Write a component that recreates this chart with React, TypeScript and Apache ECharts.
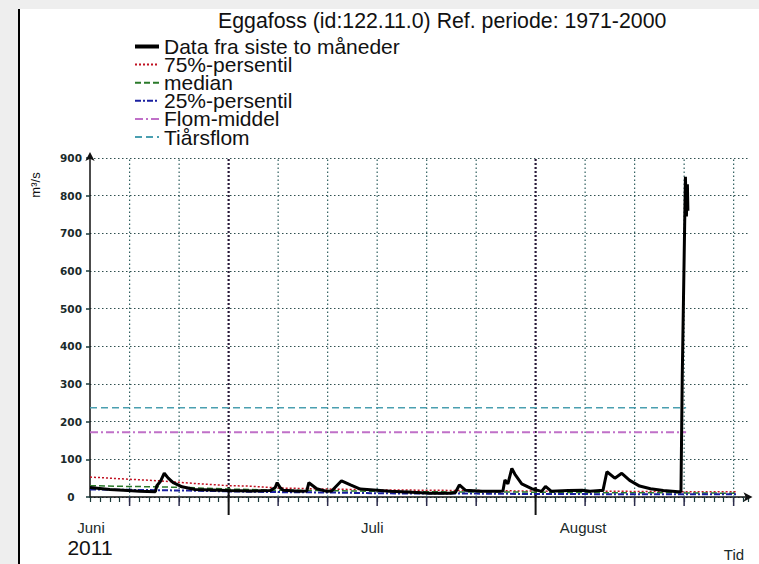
import { useEffect, useRef } from 'react';
import * as echarts from 'echarts';

const TITLE = 'Eggafoss (id:122.11.0) Ref. periode: 1971-2000';

// x values: days counted from 1 June 2011 00:00 (0 = 1 June, 30 = 1 July, 61 = 1 August)
const dataDays = [
  16.0, 18.0, 19.8, 21.0, 22.6, 22.75, 23.1, 23.5, 23.9, 24.4, 25.3, 26.6, 29.9, 32.3,
  34.2, 34.7, 34.9, 35.2, 35.5, 37.2, 37.9, 38.1, 38.9, 39.9, 40.4, 41.4, 42.3, 43.3,
  45.0, 46.3, 49.0, 50.3, 52.4, 52.9, 53.3, 53.9, 55.6, 57.2, 57.7, 57.9, 58.2, 58.6,
  58.9, 59.6, 60.6, 61.6, 62.0, 62.6, 64.3, 65.7, 66.5, 67.5, 67.8, 68.2, 69.0, 69.7,
  70.5, 71.5, 72.6, 73.9, 75.4, 75.68, 75.81, 76.13, 76.23, 76.33, 76.38,
];
const dataValues = [
  25, 20, 17, 15, 14, 30, 41, 63, 50, 38, 27, 20, 17, 16,
  17, 25, 38, 25, 18, 15, 16, 38, 22, 15, 16, 43, 32, 21,
  18, 15, 12, 10, 10, 12, 32, 18, 15, 15, 16, 45, 35, 76,
  61, 35, 22, 15, 28, 15, 17, 18, 15, 17, 17, 67, 50, 63,
  44, 29, 22, 17, 14, 14, 320, 850, 745, 830, 760,
];

const refDays = [16, 20, 23, 26, 30, 32, 35, 40, 45, 50, 55, 60, 65, 70, 75, 81.3];
const p75 = [53, 47, 43, 37, 30, 29, 24, 21, 19, 18, 17, 16, 15, 15, 14, 14];
const median = [30, 28, 27, 25, 21, 20, 18, 17, 15, 14, 13, 13, 12, 11, 11, 10];
const p25 = [20, 19, 18, 17, 15, 14, 13, 12, 10, 9, 9, 8, 8, 7, 7, 7];

const floodDays = [16, 76.2];
const flomMiddel = [172, 172];
const tiarsflom = [237, 237];

const gridDays = [20, 25, 35, 40, 45, 50, 55, 66, 71, 76, 81];
const monthStartDays = [30, 61];
const monthLabels = ['Juni', 'Juli', 'August'];
const monthLabelDays = [16.1, 44.5, 65.8];

const legendNames = [
  'Data fra siste to måneder',
  '75%-persentil',
  'median',
  '25%-persentil',
  'Flom-middel',
  'Tiårsflom',
];

const FONT = 'Liberation Sans, Arial, sans-serif';

const zip = (xs: number[], ys: number[]) => xs.map((x, i) => [x, ys[i]]);

export default function App() {
  const ref = useRef<HTMLDivElement>(null);
  useEffect(() => {
    if (!ref.current) return;
    const chart = echarts.init(ref.current, undefined, { renderer: 'svg' });
    const option: any = {
      animation: false,
      backgroundColor: '#ffffff',
      title: {
        text: TITLE,
        left: 218,
        top: 10,
        padding: 0,
        textStyle: { fontFamily: FONT, fontSize: 21.3, fontWeight: 'normal', color: '#111' },
      },
      legend: {
        data: legendNames.map((n, i) => (i === 0 ? { name: n, lineStyle: { width: 4 } } : { name: n })),
        orient: 'vertical',
        left: 133,
        top: 36,
        padding: 0,
        itemWidth: 24,
        itemHeight: 10,
        itemGap: -2.9,
        itemStyle: { opacity: 0 },
        textStyle: { fontFamily: FONT, fontSize: 21, lineHeight: 18.2, color: '#111' },
      },
      grid: { left: 90, right: 10.5, top: 158, bottom: 67 },
      xAxis: {
        type: 'value',
        min: 16,
        max: 82.5,
        interval: 1,
        axisLine: {
          show: true,
          lineStyle: { color: '#111', width: 1.5 },
          symbol: ['none', 'arrow'],
          symbolSize: [7, 9],
          symbolOffset: [0, 4],
        },
        axisTick: { show: true, length: 5, lineStyle: { color: '#1a3a3a', width: 1.2 } },
        axisLabel: { show: false },
        splitLine: { show: false },
      },
      yAxis: {
        type: 'value',
        min: 0,
        max: 900,
        interval: 100,
        axisLine: {
          show: true,
          lineStyle: { color: '#111', width: 1.5 },
          symbol: ['none', 'arrow'],
          symbolSize: [7, 9],
          symbolOffset: [0, 6],
        },
        axisTick: { show: true, length: 4, lineStyle: { color: '#1a3a3a', width: 1.5 } },
        axisLabel: {
          align: 'center',
          margin: 19,
          fontFamily: 'DejaVu Sans, sans-serif',
          fontSize: 10.5,
          fontWeight: 'bold',
          color: '#1a2a2a',
        },
        splitLine: { show: true, lineStyle: { color: '#2f4f4f', width: 1, type: [1.5, 2.5] } },
      },
      graphic: [
        { type: 'rect', shape: { x: 0, y: 0, width: 18, height: 564 }, style: { fill: '#eeeeee' }, silent: true },
        { type: 'rect', shape: { x: 0, y: 0, width: 759, height: 9 }, style: { fill: '#eeeeee' }, silent: true },
        { type: 'line', shape: { x1: 19, y1: 9, x2: 19, y2: 564 }, style: { stroke: '#000', lineWidth: 2 }, silent: true },
        {
          type: 'text', x: 90, y: 547,
          style: { text: '2011', font: `21px ${FONT}`, fill: '#111', align: 'center', verticalAlign: 'middle' },
        },
        {
          type: 'text', x: 734, y: 554,
          style: { text: 'Tid', font: `15px ${FONT}`, fill: '#1a2a2a', align: 'center', verticalAlign: 'middle' },
        },
        {
          type: 'text', x: 35, y: 185, rotation: Math.PI / 2,
          style: { text: 'm³/s', font: `13px ${FONT}`, fill: '#111', align: 'center', verticalAlign: 'middle' },
        },
      ],
      series: [
        {
          name: 'vgrid',
          type: 'custom',
          silent: true,
          z: 1,
          data: gridDays.map((d) => [d, 0]),
          renderItem: (_p: any, api: any) => {
            const a = api.coord([api.value(0), 0]);
            const b = api.coord([api.value(0), 900]);
            return {
              type: 'line',
              shape: { x1: a[0], y1: a[1], x2: b[0], y2: b[1] },
              style: { stroke: '#2f5f5f', lineWidth: 1.2, lineDash: [1.5, 2.5] },
            };
          },
        },
        {
          name: 'mgrid',
          type: 'custom',
          silent: true,
          z: 1,
          data: monthStartDays.map((d) => [d, 0]),
          renderItem: (_p: any, api: any) => {
            const a = api.coord([api.value(0), 0]);
            const b = api.coord([api.value(0), 900]);
            return {
              type: 'group',
              children: [
                {
                  type: 'line',
                  shape: { x1: a[0], y1: a[1], x2: b[0], y2: b[1] },
                  style: { stroke: '#2a1a3a', lineWidth: 2.2, lineDash: [2, 2] },
                },
                {
                  type: 'line',
                  shape: { x1: a[0], y1: a[1] - 10, x2: a[0], y2: a[1] + 18 },
                  style: { stroke: '#111', lineWidth: 2 },
                },
              ],
            };
          },
        },
        {
          name: 'majorTicks',
          type: 'custom',
          silent: true,
          z: 6,
          data: gridDays.map((d) => [d, 0]),
          renderItem: (_p: any, api: any) => {
            const a = api.coord([api.value(0), 0]);
            return {
              type: 'line',
              shape: { x1: a[0], y1: a[1], x2: a[0], y2: a[1] + 9 },
              style: { stroke: '#2a2a4a', lineWidth: 1.5 },
            };
          },
        },
        {
          name: 'monthLabels',
          type: 'custom',
          silent: true,
          z: 6,
          data: monthLabelDays.map((d) => [d, 0]),
          renderItem: (p: any, api: any) => {
            const a = api.coord([api.value(0), 0]);
            return {
              type: 'text',
              x: a[0],
              y: a[1] + 30,
              style: {
                text: monthLabels[p.dataIndex],
                font: `15px ${FONT}`,
                fill: '#1a2a2a',
                align: 'center',
                verticalAlign: 'middle',
              },
            };
          },
        },
        {
          name: 'Tiårsflom',
          type: 'line',
          symbol: 'none',
          z: 3,
          data: zip(floodDays, tiarsflom),
          lineStyle: { color: '#4a9fb0', width: 1.5, type: [7, 4] },
          itemStyle: { color: '#4a9fb0' },
        },
        {
          name: 'Flom-middel',
          type: 'line',
          symbol: 'none',
          z: 3,
          data: zip(floodDays, flomMiddel),
          lineStyle: { color: '#c070c8', width: 2, type: [8, 3, 2, 3] },
          itemStyle: { color: '#c070c8' },
        },
        {
          name: '75%-persentil',
          type: 'line',
          symbol: 'none',
          z: 3,
          data: zip(refDays, p75),
          lineStyle: { color: '#c01020', width: 1.5, type: [2, 2] },
          itemStyle: { color: '#c01020' },
        },
        {
          name: 'median',
          type: 'line',
          symbol: 'none',
          z: 3,
          data: zip(refDays, median),
          lineStyle: { color: '#2a7a2a', width: 1.5, type: [6, 3] },
          itemStyle: { color: '#2a7a2a' },
        },
        {
          name: '25%-persentil',
          type: 'line',
          symbol: 'none',
          z: 3,
          data: zip(refDays, p25),
          lineStyle: { color: '#1a20a0', width: 2, type: [6, 2, 2, 2] },
          itemStyle: { color: '#1a20a0' },
        },
        {
          name: 'Data fra siste to måneder',
          type: 'line',
          symbol: 'none',
          z: 4,
          data: zip(dataDays, dataValues),
          lineStyle: { color: '#000', width: 3 },
          itemStyle: { color: '#000' },
        },
      ],
    };
    chart.setOption(option);
    return () => chart.dispose();
  }, []);
  return (
    <div
      ref={ref}
      style={{ position: 'fixed', left: 0, top: 0, width: 759, height: 564 }}
    />
  );
}
